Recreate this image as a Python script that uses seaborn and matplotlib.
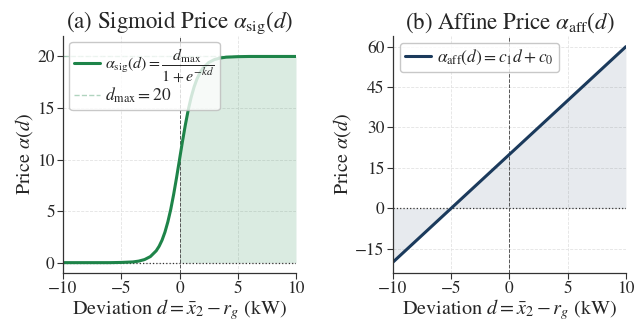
import numpy as np
import pandas as pd
import matplotlib
matplotlib.use("Agg")
import matplotlib.pyplot as plt
import seaborn as sns

# ---- data ----
sig_d = [-10, -8, -6, -5, -4, -3.5, -3, -2.5, -2, -1.75, -1.5, -1.25, -1, -0.75, -0.5, -0.25,
         0, 0.25, 0.5, 0.75, 1, 1.25, 1.5, 1.75, 2, 2.5, 3, 3.5, 4, 5, 6, 8, 10]
sig_v = [0.0, 0.0, 0.0, 0.02, 0.07, 0.15, 0.30, 0.59, 1.15, 1.59, 2.18, 2.96, 3.96, 5.18, 6.64, 8.27,
         10.0, 11.73, 13.36, 14.82, 16.04, 17.04, 17.82, 18.41, 18.85, 19.41, 19.70, 19.85, 19.93, 19.98, 20.0, 20.0, 20.0]
d_max = 20

aff_d = [-10, -5, 0, 10]
aff_v = [-20, 0, 20, 60]

sig_yticks = [0, 5, 10, 15, 20]
aff_yticks = [-15, 0, 15, 30, 45, 60]
xticks = [-10, -5, 0, 5, 10]

GREEN = "#1e8449"
NAVY = "#1b3a5c"

sns.set_theme(style="ticks")
plt.rcParams["font.family"] = ["STIXGeneral", "Liberation Serif", "DejaVu Serif"]
plt.rcParams["mathtext.fontset"] = "stix"

fig = plt.figure(figsize=(6.41, 3.20), dpi=100)
ax1 = fig.add_axes([0.0983, 0.147, 0.3635, 0.741])
ax2 = fig.add_axes([0.613, 0.147, 0.3635, 0.741])

df_sig = pd.DataFrame({"d": sig_d, "v": sig_v})
df_aff = pd.DataFrame({"d": aff_d, "v": aff_v})

for ax in (ax1, ax2):
    ax.grid(True, color="#e3e3e3", linestyle="--", linewidth=0.6)
    ax.set_axisbelow(True)

leg_kw = dict(loc="upper left", frameon=True, fancybox=True, framealpha=0.8,
              edgecolor="#bbbbbb", handletextpad=0.35,
              borderpad=0.3, labelspacing=0.1, borderaxespad=0.4)

# ---- (a) sigmoid ----
pos = df_sig[df_sig["d"] >= 0]
ax1.fill_between(pos["d"], 0, pos["v"], color=GREEN, alpha=0.16, linewidth=0)
ax1.axhline(0, color="#333333", linestyle=":", linewidth=0.9)
ax1.axvline(0, color="#555555", linestyle="--", linewidth=0.7)
sns.lineplot(data=df_sig, x="d", y="v", ax=ax1, color=GREEN, linewidth=2.2,
             label=r"$\alpha_{\rm sig}(d) = \dfrac{d_{\max}}{1+e^{-kd}}$")
ax1.axhline(d_max, color=GREEN, linestyle="--", linewidth=1.0, alpha=0.35,
            label=r"$d_{\max} = 20$")
ax1.set_xlim(-10, 10)
ax1.set_ylim(-1, 22)
ax1.set_yticks(sig_yticks)
ax1.set_xticks(xticks)
ax1.set_title(r"(a) Sigmoid Price $\alpha_{\rm sig}(d)$", fontsize=16.5, pad=5)
ax1.set_ylabel(r"Price $\alpha(d)$", fontsize=14.5, labelpad=2)
ax1.set_xlabel(r"Deviation $d = \bar{x}_2 - r_g$ (kW)", fontsize=14.5, labelpad=0)
leg1 = ax1.legend(fontsize=11.5, handlelength=1.6, **leg_kw)
leg1.get_texts()[1].set_fontsize(12.5)

# ---- (b) affine ----
ax2.fill_between(df_aff["d"], 0, df_aff["v"], color=NAVY, alpha=0.1, linewidth=0)
ax2.axhline(0, color="#333333", linestyle=":", linewidth=0.9)
ax2.axvline(0, color="#555555", linestyle="--", linewidth=0.7)
sns.lineplot(data=df_aff, x="d", y="v", ax=ax2, color=NAVY, linewidth=2.2,
             label=r"$\alpha_{\rm aff}(d) = c_1 d + c_0$")
ax2.set_xlim(-10, 10)
ax2.set_ylim(-24, 64)
ax2.set_yticks(aff_yticks)
ax2.set_xticks(xticks)
ax2.set_title(r"(b) Affine Price $\alpha_{\rm aff}(d)$", fontsize=16.5, pad=5)
ax2.set_ylabel(r"Price $\alpha(d)$", fontsize=14.5, labelpad=2)
ax2.set_xlabel(r"Deviation $d = \bar{x}_2 - r_g$ (kW)", fontsize=14.5, labelpad=0)
ax2.legend(fontsize=12.5, handlelength=1.5, **leg_kw)

for ax in (ax1, ax2):
    sns.despine(ax=ax)
    ax.tick_params(labelsize=12.5, length=4, width=0.8, color="#333333", pad=2)
    for s in ("left", "bottom"):
        ax.spines[s].set_color("#333333")
        ax.spines[s].set_linewidth(0.9)

fig.savefig("out.png", dpi=100)
